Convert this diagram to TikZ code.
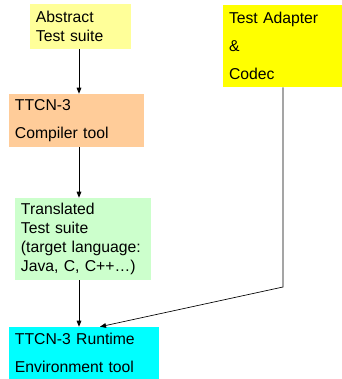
\documentclass[tikz,border=0pt]{standalone}
\usepackage{fontspec}
\setmainfont{Liberation Sans}
\usetikzlibrary{arrows.meta}

\definecolor{abstractyellow}{HTML}{FFFF99}
\definecolor{adapteryellow}{HTML}{FFFF00}
\definecolor{compilerorange}{HTML}{FFCC99}
\definecolor{translatedgreen}{HTML}{CCFFCC}
\definecolor{runtimecyan}{HTML}{00FFFF}

\begin{document}
\begin{tikzpicture}[x=0.75pt,y=-0.75pt,>={Triangle[length=4.5pt,width=3.5pt]},
 box/.style={align=left,inner xsep=4.5pt,inner ysep=0pt},
 tight/.style={font=\fontsize{11.8}{14.25}\selectfont},
 loose/.style={font=\fontsize{11.8}{21}\selectfont},
 flow/.style={->,line width=0.6pt}]
\useasboundingbox (0,0) rectangle (342,379);
\node[box,tight,fill=abstractyellow,text width=66.75pt,minimum height=33.75pt] (abs) at (80.5,26.5) {Abstract\\Test suite};
\node[box,loose,fill=adapteryellow,text width=80.25pt,minimum height=61.5pt] (ada) at (282.5,46) {Test Adapter\\\&\\Codec};
\node[box,loose,fill=compilerorange,text width=92.25pt,minimum height=39.75pt] (comp) at (76.5,120.5) {TTCN-3\\Compiler tool};
\node[box,tight,fill=translatedgreen,text width=93pt,minimum height=61.5pt] (trans) at (83,239) {Translated\\Test suite\\(target language:\\Java, C, C++\dots)};
\node[box,loose,fill=runtimecyan,text width=103.5pt,minimum height=39pt] (run) at (84,353) {TTCN-3 Runtime\\Environment tool};
\coordinate (xline) at (79,0);
\coordinate (bend) at (283,287);
\coordinate (xin) at (100,0);
% main chain
\draw[flow] (abs.south -| xline) -- (comp.north -| xline);
\draw[flow] (comp.south -| xline) -- (trans.north -| xline);
\draw[flow] (trans.south -| xline) -- (run.north -| xline);
% adapter into runtime
\draw[flow,line width=0.5pt] (ada.south -| bend) -- (bend) -- (run.north -| xin);
\end{tikzpicture}
\end{document}
